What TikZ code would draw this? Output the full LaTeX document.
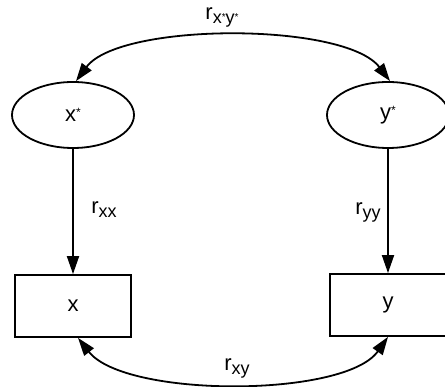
\documentclass[tikz,border=0pt]{standalone}
\usepackage{fontspec}
\setmainfont{Liberation Sans}
\usetikzlibrary{arrows.meta,calc,shapes.geometric}
\newcommand{\mysub}[1]{\raisebox{-4pt}{\fontsize{18}{20}\selectfont #1}}
\newcommand{\mystar}{\raisebox{5pt}{\fontsize{12}{12}\selectfont *}}
\begin{document}
\begin{tikzpicture}[x=1pt,y=-1pt,
  every node/.style={font=\fontsize{22}{26}\selectfont},
  latent/.style={draw,ellipse,line width=1.8pt,minimum width=122pt,minimum height=66pt,inner sep=0pt},
  observed/.style={draw,rectangle,line width=1.8pt,minimum width=116pt,minimum height=62pt,inner sep=0pt},
  conn/.style={line width=1.8pt,-{Triangle[length=18pt,width=12pt]}},
  dconn/.style={line width=1.8pt,{Triangle[length=18pt,width=12pt]}-{Triangle[length=18pt,width=12pt]}},
  lbl/.style={inner sep=0pt}]
\useasboundingbox (0,0) rectangle (445,387);
\node[latent] (xs) at (73,115) {x\mystar};
\node[latent] (ys) at (388,115) {y\mystar};
\node[observed] (x) at (73,306) {x};
\node[observed] (y) at (388,305) {y};
\draw[conn] (xs.south) -- (x.north);
\draw[conn] (ys.south) -- (y.north);
\draw[dconn] ($(xs.north)+(3,0)$) .. controls (120,22) and (345,22) .. ($(ys.north)+(2,0)$);
\draw[dconn] ($(x.south)+(5,0)$) .. controls (125,398) and (345,398) .. (y.south);
\node[lbl] (l1) at (222,17) {r\mysub{x\raisebox{3pt}{\fontsize{10}{10}\selectfont *}y\raisebox{3pt}{\fontsize{10}{10}\selectfont *}}};
\node[lbl] (l2) at (104,210) {r\mysub{xx}};
\node[lbl] (l3) at (368,212) {r\mysub{yy}};
\node[lbl] (l4) at (237,368) {r\mysub{xy}};
\end{tikzpicture}
\end{document}
